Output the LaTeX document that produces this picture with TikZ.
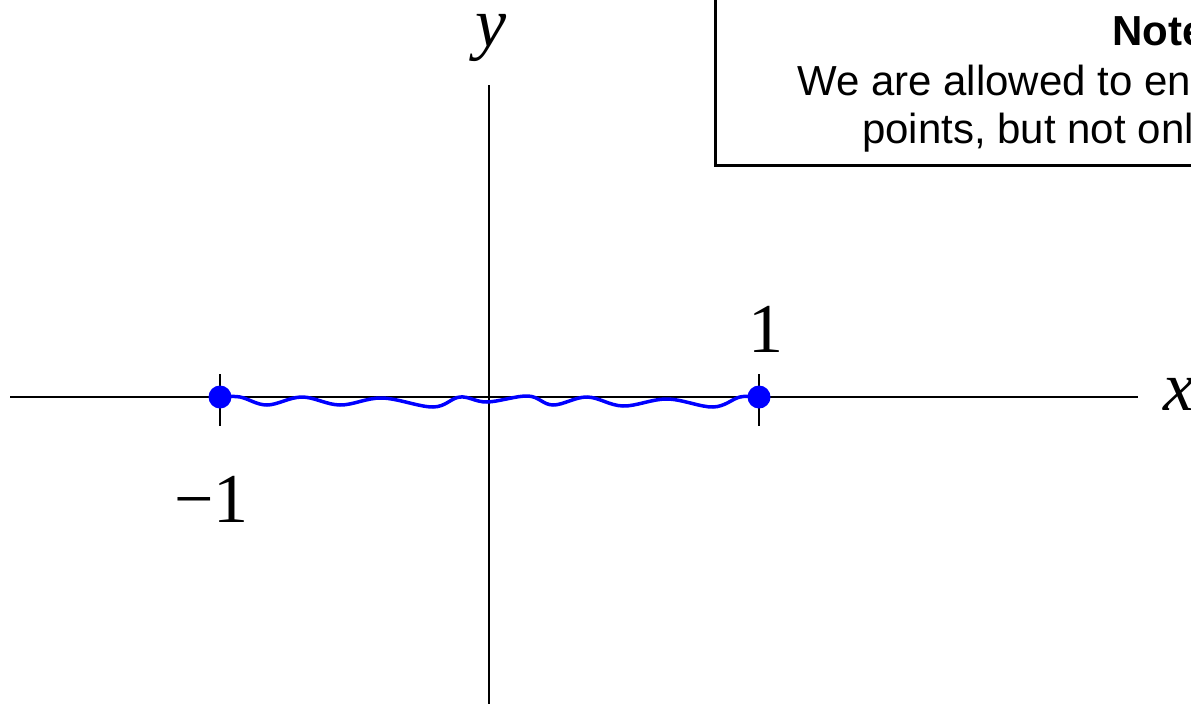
\documentclass[tikz,border=0pt]{standalone}
\usepackage{fontspec}
\setmainfont{Liberation Serif}
\newfontfamily\notefont{Liberation Sans}

\begin{document}
\begin{tikzpicture}[x=1pt,y=-1pt,
  axis/.style={line width=2.5pt},
  lbl/.style={inner sep=0pt,font=\fontsize{70}{80}\selectfont},
  notetext/.style={inner sep=0pt,anchor=base west,font=\notefont\fontsize{42}{50}\selectfont},
  endpt/.style={circle,fill=blue,inner sep=0pt,minimum size=23pt}]
\useasboundingbox (0,0) rectangle (1191,704);
\clip (0,0) rectangle (1191,704);

% axes and ticks
\draw[axis] (10,397) -- (1138,397);
\draw[axis] (489,85) -- (489,704);
\draw[axis] (220,374) -- (220,426);
\draw[axis] (759,374) -- (759,426);

% wiggly path between the end points
\draw[blue,line width=3.5pt] plot[smooth,tension=0.6] coordinates {
  (220,397) (240,397) (267,405) (302,397) (340,405) (382,398) (433,407)
  (460,397) (487,402) (528,396) (553,405) (587,397) (623,406) (667,399)
  (713,407) (740,397) (759,397)};
\node[endpt] (lft) at (220,397) {};
\node[endpt] (rgt) at (759,397) {};

% labels
\node[lbl,anchor=base] (one) at (766,352) {1};
\node[lbl,anchor=base east] (mone) at (249,522) {−1};
\node[lbl,anchor=base] (ylab) at (491,46) {\textit{y}};
\node[lbl,anchor=base west] (xlab) at (1163,410) {\textit{x}};

% note box
\draw[line width=3pt] (715,-20) rectangle (1260,165);
\node[notetext,font=\notefont\bfseries\fontsize{42}{50}\selectfont] (nhead) at (1112,45) {Note};
\node[notetext] (nline1) at (797,95) {We are allowed to en};
\node[notetext] (nline2) at (862,143) {points, but not onl};
\end{tikzpicture}
\end{document}
